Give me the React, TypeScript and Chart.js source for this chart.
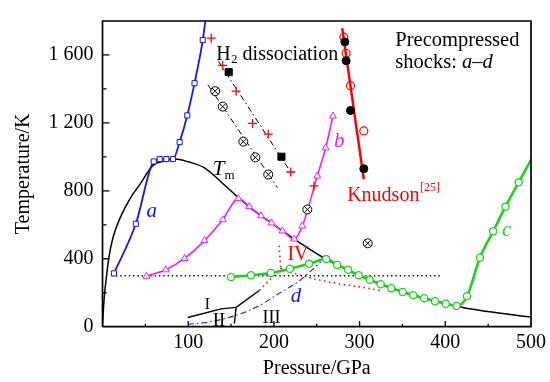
import { useEffect, useRef } from 'react';
import { Chart, registerables } from 'chart.js';

Chart.register(...registerables);

const SERIF = '"Liberation Serif", "Times New Roman", Times, serif';

// ---- axes ----
const pressureMin = 0;
const pressureMax = 500;
const temperatureMin = 0;
const temperatureMax = 1800;
const xLabelValues = [100, 200, 300, 400, 500];
const xMinorValues = [50, 150, 250, 350, 450];
const yLabelValues = [0, 400, 800, 1200, 1600];
const yMinorValues = [200, 600, 1000, 1400];

// ---- precompressed shock a (blue squares) ----
const aP = [13.4, 38.9, 59.8, 66.8, 74.5, 82.3, 90.0, 98.9, 107.4, 117.0, 120.0];
const aT = [314, 606, 973, 987, 987, 987, 1087, 1244, 1434, 1688, 1800];
// ---- b (magenta triangles) ----
const bP = [51.3, 73.8, 95.8, 119.0, 140.3, 158.5, 171.3, 184.9, 197.2, 210.0, 223.6, 233.2, 250.6, 260.4, 268.9];
const bT = [297, 335, 402, 507, 630, 754, 707, 653, 611, 564, 516, 593, 887, 1053, 1240];
// ---- c (green circles) ----
const cP = [150.0, 173.3, 196.5, 218.6, 241.0, 261.0, 273.9, 286.6, 299.0, 311.8, 324.6, 337.0, 350.2, 362.6, 375.4, 388.0, 400.5, 413.2, 425.3, 440.4, 455.9, 470.2, 485.7, 500];
const cT = [293, 303, 316, 341, 370, 398, 364, 335, 303, 276, 250, 227, 204, 185, 168, 150, 135, 122, 179, 406, 562, 707, 850, 983];
// ---- d (blue dash-dot) ----
const dP = [99.6, 121, 155.9, 183, 204, 231, 254.6];
const dT = [14, 25, 67, 124, 190, 275, 381];
// ---- melting curve Tm ----
const tmP = [0, 1.7, 4, 7.5, 12.2, 20.3, 32, 43.6, 59, 72.6, 85, 100, 119, 140, 158, 171, 185, 197, 210, 227, 260, 300, 340, 380, 419, 460, 500];
const tmT = [0, 153, 267, 410, 524, 638, 753, 838, 950, 975, 988, 971, 935, 845, 762, 707, 653, 611, 564, 505, 400, 302, 224, 163, 115, 82, 57];
// ---- Knudson [25] ----
const knLineP = [279.7, 304.9];
const knLineT = [1758, 869];
const knOpenP = [281.6, 284.3, 289.4, 304.9];
const knOpenT = [1705, 1610, 1419, 1153];
const knFilledP = [282.8, 284.3, 289.4, 304.9];
const knFilledT = [1677, 1566, 1273, 930];
// ---- H2 dissociation ----
const plusP = [126.8, 140.3, 155.9, 175.1, 193.4, 219.7, 246.8];
const plusT = [1699, 1539, 1387, 1197, 1134, 911, 829];
const filledSqP = [147.3, 208.8];
const filledSqT = [1499, 1001];
const crossCircP = [131.5, 140.3, 164.3, 178.3, 193.4, 239.0, 309.5];
const crossCircT = [1387, 1296, 1090, 997, 896, 690, 491];
const dissLine1P = [135.3, 221.6];
const dissLine1T = [1562, 895];
const dissLine2P = [122.9, 204.2];
const dissLine2T = [1425, 819];
// ---- room temperature ----
const roomP = [10.7, 395.8];
const roomT = [300, 300];
// ---- solid phase boundaries ----
const b12P = [99.6, 138.4, 155.9];
const b12T = [54, 105, 114];
const b13P = [155.9, 182.9];
const b13T = [114, 213];
const b23P = [155.9, 153.9];
const b23T = [114, 19];
// ---- phase IV boundaries (red dotted) ----
const iv1P = [183, 208];
const iv1T = [214, 343];
const iv2P = [206, 208];
const iv2T = [477, 343];
const iv3P = [208, 240, 324.3];
const iv3T = [343, 290, 214];

// ---- layout (pixels) ----
const PAD_TOP = 11.7;
const PAD_RIGHT = 17.3;
const Y_AXIS_W = 102.5;
const X_AXIS_H = 55.3;
const CANVAS_W = 550;
const CANVAS_H = 382;
const PLOT_W = CANVAS_W - Y_AXIS_W - PAD_RIGHT;
const PLOT_H = CANVAS_H - PAD_TOP - X_AXIS_H;

const pts = (xs: number[], ys: number[]) => xs.map((x, i) => ({ x, y: ys[i] }));

// frame and inward tick marks as polylines (gaps split segments)
function framePoints() {
  return [
    { x: pressureMin, y: temperatureMin },
    { x: pressureMax, y: temperatureMin },
    { x: pressureMax, y: temperatureMax },
    { x: pressureMin, y: temperatureMax },
    { x: pressureMin, y: temperatureMin },
  ];
}
function tickPoints() {
  const perPxX = (pressureMax - pressureMin) / PLOT_W;
  const perPxY = (temperatureMax - temperatureMin) / PLOT_H;
  const out: any[] = [];
  const vx = (v: number, len: number) => {
    out.push({ x: v, y: temperatureMin }, { x: v, y: temperatureMin + len * perPxY }, { x: v, y: null });
  };
  const hy = (v: number, len: number) => {
    out.push({ x: pressureMin, y: v }, { x: pressureMin + len * perPxX, y: v }, { x: pressureMin, y: null });
  };
  xLabelValues.filter((v) => v < pressureMax).forEach((v) => vx(v, 6));
  xMinorValues.forEach((v) => vx(v, 3));
  yLabelValues.filter((v) => v > temperatureMin).forEach((v) => hy(v, 7));
  yMinorValues.forEach((v) => hy(v, 4));
  return out;
}

const BLUE = '#1414ff';
const MAGENTA = '#f01ef0';
const GREEN = '#1ed21e';
const RED = '#ff0000';

const fmtY = (v: number) => {
  if (v >= 1000) {
    const th = Math.floor(v / 1000);
    const rest = String(v % 1000).padStart(3, '0');
    return th + ' ' + rest;
  }
  return String(v);
};

const textPlugin = {
  id: 'annotText',
  afterDraw(chart: any) {
    const ctx = chart.ctx;
    const xs = chart.scales.x;
    const ys = chart.scales.y;
    const X = (v: number) => xs.getPixelForValue(v);
    const Y = (v: number) => ys.getPixelForValue(v);
    ctx.save();
    ctx.textAlign = 'left';
    ctx.textBaseline = 'alphabetic';
    const put = (text: string, px: number, py: number, color: string, font: string) => {
      ctx.font = font;
      ctx.fillStyle = color;
      ctx.fillText(text, px, py);
      return ctx.measureText(text).width;
    };
    const R = (s: number) => `${s}px ${SERIF}`;
    const I = (s: number) => `italic ${s}px ${SERIF}`;

    put('a', X(51.3), Y(648), BLUE, I(21));
    put('b', X(270), Y(1057), MAGENTA, I(21));
    put('c', X(466.3), Y(535), GREEN, I(21));
    put('d', X(219.7), Y(143), BLUE, I(21));

    let px = X(128.7);
    px += put('T', px, Y(895), '#000', I(21));
    put('m', px, Y(867), '#000', R(13));

    px = X(132.6);
    px += put('H', px, Y(1571), '#000', R(20));
    px += put('2', px + 0.5, Y(1553), '#000', R(13));
    put(' dissociation', px + 0.5, Y(1571), '#000', R(20));

    put('Precompressed', X(341.7), Y(1654), '#000', R(20.5));
    px = X(341.7);
    px += put('shocks: ', px, Y(1524), '#000', R(20.5));
    px += put('a', px, Y(1524), '#000', I(20.5));
    px += put('\u2013', px, Y(1524), '#000', R(20.5));
    put('d', px, Y(1524), '#000', I(20.5));

    px = X(285.5);
    px += put('Knudson', px, Y(743), RED, R(20));
    put('[25]', px + 0.5, Y(800), RED, R(12));

    put('IV', X(215.8), Y(391), RED, R(20));
    put('I', X(119), Y(107), '#000', R(17));
    put('II', X(128.7), Y(4), '#000', R(19));
    put('III', X(186.8), Y(21), '#000', R(18));
    ctx.restore();
  },
};

function marks(color: string, style: string, r: number, fill: string, bw = 1) {
  return {
    showLine: false,
    pointStyle: style,
    pointRadius: r,
    pointBorderColor: color,
    pointBackgroundColor: fill,
    pointBorderWidth: bw,
    borderColor: color,
    backgroundColor: fill,
  };
}

function line(color: string, width: number, dash: number[] = [], monotone = false) {
  return {
    showLine: true,
    pointRadius: 0,
    borderColor: color,
    borderWidth: width,
    borderDash: dash,
    cubicInterpolationMode: monotone ? 'monotone' : 'default',
    tension: 0,
  };
}

function curveWithMarks(color: string, width: number, style: string, r: number, n: number, lastBare: boolean, bw = 1) {
  const radii = Array.from({ length: n }, (_, i) => (lastBare && i === n - 1 ? 0 : r));
  return {
    showLine: true,
    borderColor: color,
    borderWidth: width,
    cubicInterpolationMode: 'monotone',
    pointStyle: style,
    pointRadius: radii,
    pointBorderColor: color,
    pointBackgroundColor: '#fff',
    pointBorderWidth: bw,
  };
}

const axisFont = { family: SERIF, size: 20 };

export default function App() {
  const ref = useRef<HTMLCanvasElement | null>(null);
  useEffect(() => {
    if (!ref.current) return;
    const dashDot = [6, 3, 1.5, 3];
    const chart = new Chart(ref.current, {
      type: 'scatter',
      data: {
        datasets: [
          { data: framePoints(), ...line('#000', 1.7), clip: false, spanGaps: false },
          { data: tickPoints(), ...line('#000', 1.3), clip: false, spanGaps: false },
          { data: pts(knFilledP, knFilledT), ...marks('#000', 'circle', 4, '#000') },
          { data: pts(knOpenP, knOpenT), ...marks(RED, 'circle', 4, 'rgba(0,0,0,0)', 1.2) },
          { data: pts(plusP, plusT), ...marks(RED, 'cross', 4.5, RED, 1.3) },
          { data: pts(filledSqP, filledSqT), ...marks('#000', 'rect', 5, '#000') },
          { data: pts(crossCircP, crossCircT), ...marks('#000', 'crossRot', 4.5, '#000', 1) },
          { data: pts(crossCircP, crossCircT), ...marks('#000', 'circle', 4.5, '#fff', 1) },
          { data: pts(cP, cT), ...curveWithMarks(GREEN, 2.6, 'circle', 3.6, cP.length, true, 1.3) },
          { data: pts(bP, bT), ...curveWithMarks(MAGENTA, 1.6, 'triangle', 4, bP.length, false, 1) },
          { data: pts(aP, aT), ...curveWithMarks(BLUE, 1.8, 'rect', 3.6, aP.length, true, 1) },
          { data: pts(knLineP, knLineT), ...line(RED, 2.5) },
          { data: pts(tmP, tmT), ...line('#000', 1.5, [], true) },
          { data: pts(dissLine1P, dissLine1T), ...line('#000', 1, dashDot) },
          { data: pts(dissLine2P, dissLine2T), ...line('#000', 1, dashDot) },
          { data: pts(roomP, roomT), ...line('#000', 1.3, [1.3, 3]) },
          { data: pts(dP, dT), ...line(BLUE, 1.1, dashDot, true) },
          { data: pts(b12P, b12T), ...line('#000', 1.4) },
          { data: pts(b13P, b13T), ...line('#000', 1.4) },
          { data: pts(b23P, b23T), ...line('#000', 1.4) },
          { data: pts(iv1P, iv1T), ...line(RED, 1.5, [1.5, 3.5]) },
          { data: pts(iv2P, iv2T), ...line(RED, 1.5, [1.5, 3.5]) },
          { data: pts(iv3P, iv3T), ...line(RED, 1.5, [1.5, 3.5], true) },
        ] as any,
      },
      options: {
        animation: false,
        responsive: true,
        maintainAspectRatio: false,
        layout: { padding: { left: 0, right: PAD_RIGHT, top: PAD_TOP, bottom: 0 } },
        plugins: { legend: { display: false }, tooltip: { enabled: false } },
        scales: {
          x: {
            type: 'linear',
            min: pressureMin,
            max: pressureMax,
            afterFit: (s: any) => {
              s.height = X_AXIS_H;
            },
            grid: { display: false, drawTicks: false, tickLength: 0 },
            border: { display: false },
            afterBuildTicks: (s: any) => {
              s.ticks = [pressureMin, ...xLabelValues].map((v) => ({ value: v }));
            },
            ticks: {
              padding: 4,
              color: '#000',
              maxRotation: 0,
              autoSkip: false,
              font: axisFont,
              callback: (v: any) => (Number(v) === pressureMin ? '' : String(v)),
            },
            title: {
              display: true,
              text: 'Pressure/GPa',
              color: '#000',
              font: axisFont,
              padding: { top: 0, bottom: 1 },
            },
          },
          y: {
            type: 'linear',
            min: temperatureMin,
            max: temperatureMax,
            afterFit: (s: any) => {
              s.width = Y_AXIS_W;
            },
            grid: { display: false, drawTicks: false, tickLength: 0 },
            border: { display: false },
            afterBuildTicks: (s: any) => {
              s.ticks = yLabelValues.map((v) => ({ value: v }));
            },
            ticks: {
              padding: 9,
              color: '#000',
              autoSkip: false,
              font: axisFont,
              callback: (v: any) => fmtY(Number(v)),
            },
            title: {
              display: true,
              text: 'Temperature/K',
              color: '#000',
              font: axisFont,
              padding: { top: 12, bottom: 0 },
            },
          },
        },
      } as any,
      plugins: [textPlugin],
    });
    return () => chart.destroy();
  }, []);
  return (
    <div style={{ position: 'fixed', left: 0, top: 0, width: CANVAS_W, height: CANVAS_H, background: '#fff' }}>
      <canvas ref={ref} />
    </div>
  );
}
